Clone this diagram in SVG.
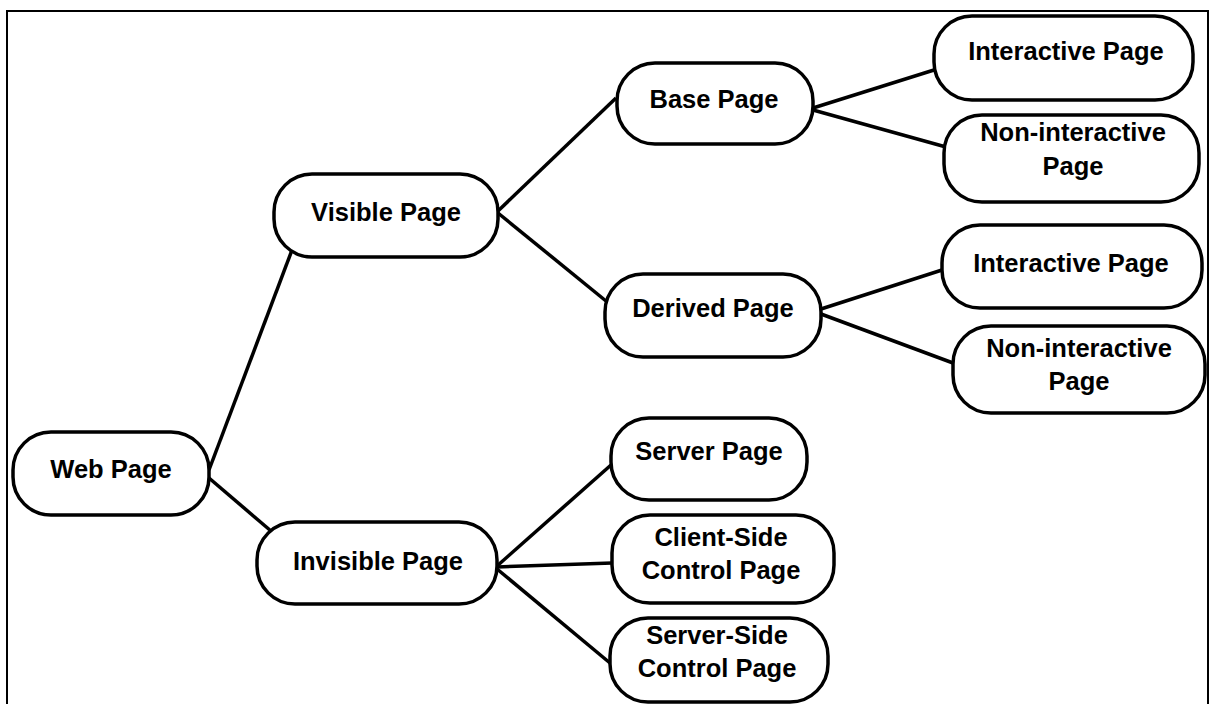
<svg xmlns="http://www.w3.org/2000/svg" width="1213" height="704" viewBox="0 0 1213 704">
<style>
.n{fill:#fff;stroke:#000;stroke-width:3.5}
.t{font-family:"Liberation Sans",Arial,sans-serif;font-weight:bold;font-size:25.5px;fill:#000;text-anchor:middle}
.c{stroke:#000;stroke-width:3.5;fill:none}
</style>
<rect x="0" y="0" width="1213" height="704" fill="#fff"/>
<rect x="7" y="11" width="1201" height="800" fill="none" stroke="#000" stroke-width="2"/>
<g id="connectors">
<line class="c" x1="209" y1="470" x2="292" y2="250"/>
<line class="c" x1="209" y1="478" x2="271" y2="531"/>
<line class="c" x1="498" y1="211" x2="616" y2="98"/>
<line class="c" x1="498" y1="213" x2="606" y2="301"/>
<line class="c" x1="813" y1="108" x2="934" y2="70"/>
<line class="c" x1="813" y1="110" x2="946" y2="147"/>
<line class="c" x1="821" y1="309" x2="942" y2="270"/>
<line class="c" x1="821" y1="314" x2="953" y2="363"/>
<line class="c" x1="497" y1="566" x2="611" y2="465"/>
<line class="c" x1="497" y1="567" x2="612" y2="563"/>
<line class="c" x1="497" y1="569" x2="610" y2="663"/>
</g>
<g id="web-page"><rect class="n" x="13" y="432" width="196" height="83" rx="38"/><text class="t" x="111" y="478">Web Page</text></g>
<g id="visible-page"><rect class="n" x="274" y="174" width="224" height="83" rx="38"/><text class="t" x="386" y="221">Visible Page</text></g>
<g id="invisible-page"><rect class="n" x="257" y="522" width="240" height="82" rx="38"/><text class="t" x="378" y="570">Invisible Page</text></g>
<g id="base-page"><rect class="n" x="617" y="63" width="196" height="81" rx="38"/><text class="t" x="714" y="108">Base Page</text></g>
<g id="derived-page"><rect class="n" x="605" y="274" width="216" height="83" rx="38"/><text class="t" x="713" y="317">Derived Page</text></g>
<g id="interactive-page-1"><rect class="n" x="934" y="16" width="259" height="84" rx="38"/><text class="t" x="1066" y="60">Interactive Page</text></g>
<g id="non-interactive-page-1"><rect class="n" x="944" y="115" width="255" height="87" rx="38"/><text class="t" x="1073" y="141">Non-interactive</text><text class="t" x="1073" y="175">Page</text></g>
<g id="interactive-page-2"><rect class="n" x="942" y="225" width="260" height="83" rx="38"/><text class="t" x="1071" y="272">Interactive Page</text></g>
<g id="non-interactive-page-2"><rect class="n" x="953" y="326" width="252" height="87" rx="38"/><text class="t" x="1079" y="357">Non-interactive</text><text class="t" x="1079" y="390">Page</text></g>
<g id="server-page"><rect class="n" x="611" y="418" width="196" height="82" rx="38"/><text class="t" x="709" y="460">Server Page</text></g>
<g id="client-side-control-page"><rect class="n" x="612" y="515" width="222" height="88" rx="38"/><text class="t" x="721" y="546">Client-Side</text><text class="t" x="721" y="579">Control Page</text></g>
<g id="server-side-control-page"><rect class="n" x="610" y="618" width="218" height="84" rx="38"/><text class="t" x="717" y="644">Server-Side</text><text class="t" x="717" y="677">Control Page</text></g>
</svg>
